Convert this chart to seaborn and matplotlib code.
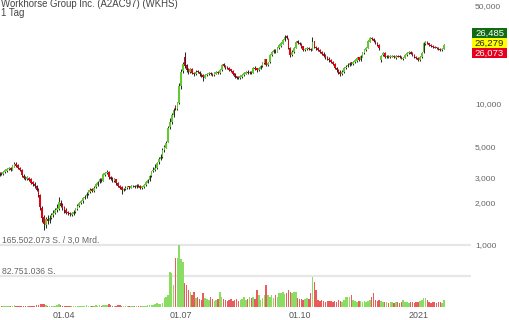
import numpy as np
import pandas as pd
import matplotlib
matplotlib.use("Agg")
import matplotlib.pyplot as plt
from matplotlib.patches import Rectangle
import seaborn as sns

# ---------------- data ----------------
title = "Workhorse Group Inc. (A2AC97) (WKHS)"
period = "1 Tag"

opens = [3.05,3.15,3.25,3.18,3.30,3.36,3.44,3.52,3.42,3.60,3.78,3.68,3.52,3.40,3.10,3.02,2.94,3.00,2.92,2.78,
         2.72,2.60,2.45,2.25,1.82,1.58,1.38,1.54,1.47,1.55,1.62,1.69,1.76,1.80,2.00,1.92,1.85,1.78,1.71,1.69,
         1.64,1.67,1.72,1.80,1.89,1.97,2.04,2.16,2.21,2.29,2.39,2.48,2.40,2.56,2.68,2.78,2.95,2.86,3.15,3.24,
         3.32,3.05,2.96,2.86,2.92,2.76,2.64,2.56,2.44,2.49,2.54,2.60,2.55,2.61,2.63,2.57,2.68,2.63,2.54,2.59,
         2.65,2.77,2.88,3.08,3.35,3.40,3.50,3.85,4.10,4.18,4.75,4.90,5.40,6.90,7.40,8.30,9.60,9.20,10.20,13.40,
         17.20,21.50,18.80,17.60,16.80,17.70,16.70,16.30,17.10,16.90,16.30,16.00,15.40,16.00,16.30,16.70,16.40,16.00,16.40,16.90,
         16.50,17.30,19.20,18.70,18.20,18.00,17.60,17.20,16.50,15.70,15.50,15.20,15.60,16.00,16.40,17.00,16.60,16.90,16.70,18.10,
         17.90,17.30,17.80,18.50,19.40,20.80,18.80,19.70,22.20,23.30,24.20,23.50,24.80,25.90,26.80,28.40,30.20,28.90,24.80,22.10,
         23.40,25.00,27.80,27.20,26.70,25.60,24.00,24.50,25.10,24.60,24.30,27.80,25.50,24.90,24.20,23.50,22.80,22.10,21.40,21.00,
         20.50,20.00,19.10,18.10,17.50,17.00,16.20,16.90,18.10,18.50,18.90,19.70,19.20,19.80,20.30,21.40,20.40,21.70,22.90,24.10,
         25.00,27.70,29.50,28.90,28.00,27.30,26.30,20.60,22.10,23.10,21.50,22.00,21.40,21.70,22.00,21.30,22.00,21.80,21.60,20.90,
         21.30,22.30,22.90,23.50,22.90,22.40,21.70,21.30,20.40,21.40,23.20,26.80,27.60,27.00,26.30,25.90,25.40,25.20,25.00,24.50,
         24.00,24.60]
highs = [3.22,3.30,3.32,3.36,3.45,3.52,3.58,3.58,3.70,3.85,3.86,3.74,3.58,3.45,3.18,3.08,3.10,3.06,2.98,2.85,
         2.80,2.66,2.52,2.30,1.88,1.62,1.58,1.62,1.62,1.68,1.76,1.82,1.95,2.18,2.10,1.98,1.88,1.82,1.75,1.72,
         1.72,1.76,1.84,1.94,2.03,2.10,2.20,2.26,2.36,2.46,2.53,2.52,2.60,2.76,2.86,2.98,3.00,3.24,3.32,3.40,
         3.36,3.10,3.02,2.98,2.95,2.80,2.68,2.60,2.55,2.60,2.64,2.64,2.66,2.68,2.67,2.72,2.72,2.66,2.64,2.71,
         2.83,2.96,3.16,3.36,3.55,3.75,3.90,4.20,4.45,4.85,5.10,5.45,7.00,8.00,8.70,9.40,9.90,10.40,14.00,17.60,
         19.80,23.40,19.20,18.00,18.00,18.00,17.00,17.30,17.40,17.10,16.60,16.20,16.40,16.70,16.90,16.90,16.60,16.80,17.10,17.20,
         17.70,19.20,19.60,19.00,18.50,18.20,17.80,17.40,16.70,15.90,15.80,16.00,16.40,16.80,17.20,17.30,17.10,17.20,18.30,18.50,
         18.10,18.20,18.90,19.80,20.90,21.00,20.00,22.70,23.90,24.60,24.70,25.40,26.50,27.60,29.10,30.80,30.90,29.20,25.20,24.00,
         25.40,28.00,28.30,27.70,27.00,25.90,25.00,25.40,25.50,25.00,30.00,28.20,25.90,25.30,24.60,23.90,23.20,22.50,21.80,21.40,
         20.90,20.30,19.40,18.40,17.80,17.30,17.30,18.30,18.80,19.40,20.00,20.00,20.30,20.80,21.60,21.70,22.20,23.40,24.60,25.40,
         28.40,30.00,30.10,29.20,28.40,27.60,26.60,22.40,23.40,23.30,22.30,22.30,22.10,22.40,22.30,22.20,22.30,22.10,21.90,21.50,
         22.70,23.40,23.80,23.80,23.20,22.70,22.00,21.60,21.80,23.40,27.50,28.10,28.00,27.30,26.60,26.20,25.80,25.50,25.30,24.80,
         24.80,26.49]
lows = [3.00,3.10,3.12,3.15,3.26,3.32,3.40,3.36,3.40,3.55,3.60,3.45,3.34,3.05,2.94,2.88,2.90,2.84,2.70,2.64,
        2.55,2.40,2.18,1.78,1.45,1.28,1.32,1.42,1.44,1.52,1.58,1.66,1.72,1.78,1.85,1.78,1.70,1.66,1.63,1.61,
        1.61,1.64,1.70,1.77,1.86,1.94,2.00,2.12,2.17,2.25,2.35,2.36,2.37,2.52,2.64,2.74,2.82,2.84,3.10,3.18,
        2.96,2.88,2.82,2.82,2.68,2.58,2.48,2.30,2.40,2.45,2.50,2.50,2.52,2.56,2.53,2.54,2.57,2.50,2.50,2.55,
        2.62,2.74,2.85,3.04,3.28,3.36,3.46,3.78,4.00,4.12,4.60,4.85,5.35,6.60,7.20,8.10,9.00,9.00,10.00,12.80,
        16.50,18.00,16.90,16.40,16.50,16.20,15.90,16.00,16.50,15.90,15.60,14.60,15.20,15.80,16.10,16.00,15.80,15.80,16.20,16.30,
        16.40,17.10,18.20,17.80,17.60,17.20,16.80,16.10,15.30,15.00,15.00,15.00,15.40,15.80,16.20,16.40,16.30,16.30,16.50,17.40,
        17.00,17.10,17.60,18.30,19.20,18.50,18.50,19.50,21.80,22.90,23.10,23.20,24.50,25.50,26.50,28.00,28.70,24.50,21.50,21.80,
        23.00,24.80,26.50,26.10,25.10,23.70,23.60,24.10,24.00,23.70,24.00,24.90,24.30,23.70,23.00,22.20,21.60,20.90,20.50,20.00,
        19.50,18.80,17.60,17.00,16.40,15.80,16.00,16.70,17.80,18.20,18.60,19.00,19.00,19.50,20.00,20.20,20.20,21.50,22.60,23.80,
        24.80,27.40,28.30,27.40,26.80,25.80,24.20,19.90,21.80,21.30,21.20,21.20,21.10,21.40,21.10,21.00,21.40,21.20,20.70,20.60,
        21.10,22.00,22.60,22.50,22.00,21.30,20.80,20.10,20.20,21.20,23.00,26.40,26.50,25.80,25.40,24.90,24.80,24.50,24.00,23.80,
        23.70,24.40]
closes = [3.15,3.22,3.18,3.30,3.38,3.45,3.50,3.42,3.62,3.75,3.66,3.50,3.40,3.12,3.00,2.95,3.02,2.90,2.75,2.70,
          2.62,2.45,2.26,1.85,1.55,1.40,1.52,1.48,1.56,1.63,1.70,1.76,1.82,2.02,1.90,1.84,1.76,1.70,1.68,1.65,
          1.68,1.72,1.80,1.90,1.98,2.05,2.15,2.20,2.30,2.40,2.46,2.42,2.55,2.70,2.80,2.92,2.88,3.18,3.25,3.30,
          3.02,2.95,2.88,2.92,2.74,2.62,2.54,2.45,2.50,2.55,2.58,2.56,2.60,2.62,2.58,2.66,2.62,2.55,2.60,2.66,
          2.78,2.90,3.10,3.30,3.42,3.52,3.80,4.05,4.20,4.70,4.95,5.30,6.80,7.50,8.40,9.00,9.30,10.10,13.50,17.00,
          19.20,18.60,17.50,16.90,17.60,16.60,16.40,17.00,16.90,16.20,16.00,15.50,16.10,16.40,16.60,16.30,16.10,16.50,16.80,16.60,
          17.40,18.90,18.60,18.10,18.00,17.50,17.10,16.40,15.60,15.40,15.30,15.70,16.10,16.50,16.90,16.70,16.80,16.60,18.00,17.80,
          17.40,17.90,18.60,19.50,20.50,18.90,19.60,22.30,23.40,24.00,23.60,24.90,26.00,27.00,28.50,29.90,29.30,25.00,22.30,23.50,
          24.90,27.50,27.00,26.60,25.50,24.10,24.60,24.90,24.50,24.10,27.50,25.30,24.80,24.10,23.40,22.60,22.00,21.30,20.90,20.40,
          19.90,19.20,18.00,17.40,16.90,16.30,17.00,18.00,18.40,19.00,19.60,19.30,19.90,20.40,21.20,20.50,21.80,23.00,24.20,24.90,
          27.80,29.30,28.80,27.90,27.20,26.20,24.80,22.00,23.00,21.60,21.90,21.50,21.80,21.90,21.40,21.90,21.70,21.50,21.00,21.20,
          22.40,23.00,23.40,22.80,22.30,21.60,21.20,20.50,21.50,23.00,27.00,27.50,26.90,26.20,25.80,25.30,25.10,24.90,24.40,24.10,
          24.50,26.28]
volume_m = [3,3,2,3,4,3,3,2,4,5, 4,3,3,4,3,3,2,3,4,3, 4,5,6,9,8,7,5,4,4,3, 3,4,5,9,5,4,3,3,2,3,
            2,3,3,4,4,3,3,4,5,4, 3,4,4,5,4,5,4,6,5,5, 8,5,4,3,4,5,6,4,3,3, 3,2,3,3,2,3,3,3,2,3,
            4,5,5,6,5,8,10,9,8,12, 24,28,32,93,91,59,131,131,165,128, 120,64,59,45,40,32,40,24,27,21,
            19,37,24,21,19,27,21,16,19,21, 40,27,21,19,16,19,21,16,19,21, 16,19,21,27,19,21,27,24,27,21,
            45,32,19,24,32,59,32,27,32,24, 32,27,37,37,40,35,37,45,40,37, 40,40,24,21,21,19,21,24,21,37,
            80,66,45,19,16,19,16,13,16,16, 16,13,16,13,19,16,13,19,27,27, 27,32,19,16,13,16,16,13,16,13,
            16,19,27,37,19,16,19,16,13,13, 13,11,13,13,11,13,13,11,13,19, 13,13,11,13,13,11,13,13,16,19,
            24,24,19,13,11,13,13,11,13,13, 11,19]

x_tick_index = [36, 99, 163, 227]
x_tick_labels = ["01.04", "01.07", "01.10", "2021"]
price_ticks = [1, 2, 3, 5, 10, 50]
price_tick_labels = ["1,000", "2,000", "3,000", "5,000", "10,000", "50,000"]
vol_grid = [82.751036, 165.502073]
vol_grid_labels = ["82.751.036 S.", "165.502.073 S. / 3,0 Mrd."]
quote_labels = ["26,485", "26,279", "26,073"]

# ---------------- styling ----------------
sns.set_style("white")
plt.rcParams["font.family"] = ["Liberation Sans", "DejaVu Sans"]

GREEN = "#5fcb2c"
RED = "#e5000f"
VGREEN = "#8bdc62"
VRED = "#ec5b5b"
GRID = "#e6e6e6"

W, H = 510, 320
fig = plt.figure(figsize=(W / 100, H / 100), dpi=100)

def fx(px):
    return px / W

def fy(py):
    return 1 - py / H

idx = np.arange(len(closes))
o = np.array(opens); c = np.array(closes); hi = np.array(highs); lo = np.array(lows)
up = c >= o

# x mapping: index 99 at 181 px, 1.852 px per trading day
px_per = 1.852
x_lo = 99 - 181 / px_per
x_hi = x_lo + 470 / px_per

# ---------------- price panel ----------------
axp = fig.add_axes([0, fy(245), fx(470), 245 / H])
axp.set_yscale("log")
axp.set_ylim(1.0, 10 ** (245 / 141))
axp.set_xlim(x_lo, x_hi)

axp.vlines(idx, lo, hi, color="#2b2b2b", linewidth=0.75, zorder=2)
body_bottom = np.minimum(o, c)
body_height = np.maximum(np.abs(c - o), body_bottom * 0.006)
axp.bar(idx, body_height, bottom=body_bottom, width=0.85,
        color=np.where(up, GREEN, RED), linewidth=0, zorder=3)

for s in axp.spines.values():
    s.set_visible(False)
axp.yaxis.tick_right()
axp.set_yticks(price_ticks)
axp.set_yticklabels(price_tick_labels)
axp.minorticks_off()
axp.tick_params(axis="y", length=0, pad=3.6, labelsize=6, labelcolor="#666666")
axp.set_xticks([])
axp.grid(False)
axp.patch.set_alpha(0)

# ---------------- volume panel ----------------
axv = fig.add_axes([0, fy(307), fx(470), 62 / H])
vol_df = pd.DataFrame({"idx": idx, "vol": volume_m,
                       "dir": np.where(up, "up", "down")})
sns.barplot(data=vol_df, x="idx", y="vol", hue="dir",
            palette={"up": VGREEN, "down": VRED}, native_scale=True,
            dodge=False, width=0.8, errorbar=None, legend=False,
            saturation=1, linewidth=0, ax=axv)
axv.set_xlim(x_lo, x_hi)
axv.set_ylim(0, vol_grid[1])
for g in vol_grid:
    axv.axhline(g, color=GRID, linewidth=1.6, zorder=0, clip_on=False)
for s in axv.spines.values():
    s.set_visible(False)
axv.set_yticks([])
axv.set_xticks(x_tick_index)
axv.set_xticklabels(x_tick_labels)
axv.tick_params(axis="x", length=0, pad=3, labelsize=6.4, labelcolor="#555555")
axv.set_xlabel("")
axv.set_ylabel("")
axv.patch.set_alpha(0)

fig.text(fx(2), fy(243), vol_grid_labels[1], fontsize=6.2, color="#666666",
         ha="left", va="baseline")
fig.text(fx(2), fy(274), vol_grid_labels[0], fontsize=6.2, color="#666666",
         ha="left", va="baseline")

# ---------------- header ----------------
fig.text(fx(1), fy(6.8), title, fontsize=6.9, color="#444444", ha="left", va="baseline")
fig.text(fx(1), fy(15.5), period, fontsize=6.9, color="#444444", ha="left", va="baseline")

# ---------------- quote boxes ----------------
box_colors = ["#116b11", "#ffff00", "#e5001c"]
text_colors = ["white", "#222222", "white"]
for k, (lab, bc, tc) in enumerate(zip(quote_labels, box_colors, text_colors)):
    top = 28 + 10 * k
    fig.patches.append(Rectangle((fx(472), fy(top + 10)), fx(35), 10 / H,
                                 transform=fig.transFigure, facecolor=bc,
                                 edgecolor="none", zorder=5))
    fig.text(fx(489.5), fy(top + 5), lab, fontsize=6.8, color=tc,
             ha="center", va="center", zorder=6)

fig.savefig("out.png", dpi=100)
